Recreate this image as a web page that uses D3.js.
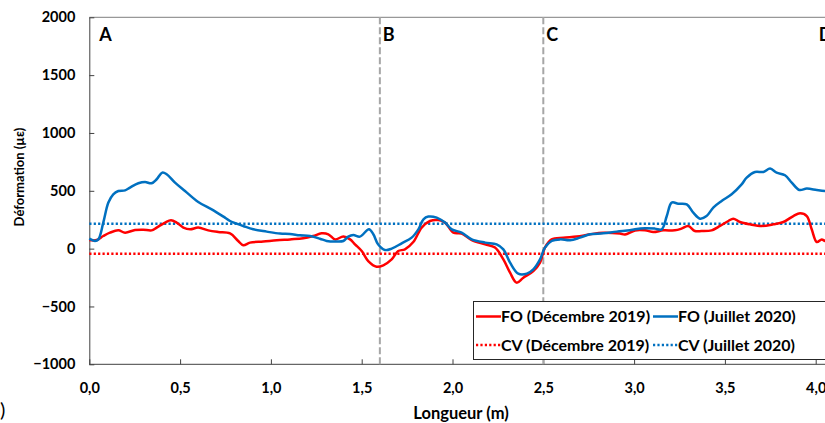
<!DOCTYPE html>
<html><head><meta charset="utf-8">
<script src="https://cdn.jsdelivr.net/npm/d3@7"></script>
<style>
html,body{margin:0;padding:0;background:#fff;overflow:hidden}
svg{display:block;font-family:Lato,"Open Sans",sans-serif}
</style></head>
<body>
<svg id="c" width="825" height="423"></svg>
<script>
// ---- data ----
const xTicks = [0, 0.5, 1.0, 1.5, 2.0, 2.5, 3.0, 3.5, 4.0];
const yTicks = [-1000, -500, 0, 500, 1000, 1500, 2000];
const sectionPos = [1.6, 2.5];
const labels = ["A", "B", "C", "D"];
const labelPos = [0.0, 1.6, 2.5, 4.0];
const cvDec2019 = -45;
const cvJul2020 = 215;

const xFOjul = [0,0.031,0.05,0.077,0.105,0.132,0.16,0.197,0.224,0.27,0.307,0.343,0.371,0.402,0.426,0.472,0.527,0.6,0.674,0.747,0.775,0.848,0.903,0.977,1.05,1.105,1.16,1.215,1.27,1.307,1.362,1.399,1.426,1.454,1.49,1.54,1.564,1.59,1.628,1.665,1.72,1.775,1.812,1.84,1.867,1.913,1.959,1.996,2.05,2.106,2.18,2.243,2.28,2.317,2.362,2.409,2.445,2.482,2.509,2.546,2.592,2.647,2.702,2.757,2.83,2.904,2.977,3.005,3.06,3.115,3.152,3.18,3.207,3.243,3.29,3.326,3.363,3.399,3.436,3.482,3.537,3.592,3.62,3.666,3.712,3.749,3.785,3.831,3.868,3.91,3.951,4.006,4.052,4.1];
const yFOjul = [86,66,80,225,398,470,498,504,528,565,576,565,600,657,643,571,498,403,340,268,239,196,167,147,130,126,115,109,86,66,61,66,104,118,104,167,124,37,-12,0,46,95,167,253,277,268,225,167,138,80,52,37,-6,-121,-216,-216,-179,-93,9,66,80,72,95,124,132,147,158,167,176,173,167,282,398,389,383,311,259,282,355,412,470,556,614,663,663,692,657,634,571,507,519,507,498,490];

const xFOdec = [0,0.04,0.077,0.114,0.16,0.197,0.252,0.297,0.343,0.371,0.417,0.45,0.481,0.518,0.555,0.6,0.655,0.71,0.775,0.82,0.848,0.885,0.958,1.032,1.105,1.178,1.233,1.279,1.316,1.353,1.399,1.436,1.463,1.5,1.536,1.582,1.619,1.665,1.701,1.738,1.784,1.83,1.876,1.922,1.959,2.005,2.05,2.106,2.18,2.234,2.28,2.317,2.353,2.39,2.445,2.482,2.509,2.546,2.61,2.684,2.757,2.83,2.922,2.95,3.005,3.06,3.106,3.161,3.224,3.261,3.298,3.335,3.371,3.427,3.473,3.519,3.546,3.583,3.638,3.703,3.767,3.822,3.877,3.914,3.951,3.978,4.006,4.033,4.052,4.1];
const yFOdec = [74,74,109,138,158,138,161,164,158,182,225,245,225,182,167,182,158,144,132,66,29,52,61,72,80,89,109,132,124,80,104,80,37,-21,-107,-156,-144,-93,-21,-6,57,182,239,247,225,138,130,74,37,9,-93,-208,-294,-251,-194,-121,9,80,95,104,124,138,130,122,157,158,144,158,158,173,196,152,152,158,196,239,259,230,210,196,210,230,282,305,282,167,57,80,66,60];

const legendNames = ["FO (Décembre 2019)", "FO (Juillet 2020)", "CV (Décembre 2019)", "CV (Juillet 2020)"];
const RED = "#ff0000", BLUE = "#0070c0";

// ---- scales ----
const x0 = 89.3, pxPerM = 181.6;
const x = d3.scaleLinear().domain([0, 4.5]).range([x0, x0 + 4.5 * pxPerM]);
const y = d3.scaleLinear().domain([-1000, 2000]).range([364.3, 17.3]);

const svg = d3.select("#c");
const W = 825;

// top border
svg.append("line").attr("x1", x(0)).attr("x2", W).attr("y1", y(2000)).attr("y2", y(2000))
  .attr("stroke", "#7f7f7f").attr("stroke-width", 1);

// axes
const xAxis = d3.axisBottom(x).tickValues(xTicks).tickSizeInner(-5).tickSizeOuter(0)
  .tickFormat(d => d3.format(".1f")(d).replace(".", ","));
const gx = svg.append("g").attr("transform", `translate(0,${y(-1000)})`).call(xAxis);
gx.select(".domain").attr("stroke", "#404040").attr("d", `M${x(0)},0H${W}`);
gx.selectAll(".tick line").attr("stroke", "#404040");
gx.selectAll("text").attr("dy", null).attr("y", 29).attr("fill", "#000")
  .style("font-size", "14.5px").style("font-weight", "700").style("font-family", "Lato");

const yAxis = d3.axisLeft(y).tickValues(yTicks).tickSizeInner(-5).tickSizeOuter(0).tickFormat(d3.format("d"));
const gy = svg.append("g").attr("transform", `translate(${x(0)},0)`).call(yAxis);
gy.select(".domain").attr("stroke", "#404040");
gy.selectAll(".tick line").attr("stroke", "#404040");
gy.selectAll("text").attr("x", -14).attr("fill", "#000")
  .style("font-size", "14.5px").style("font-weight", "700").style("font-family", "Lato");

// section dashed lines
svg.selectAll(".sec").data(sectionPos).join("line")
  .attr("x1", d => x(d)).attr("x2", d => x(d)).attr("y1", y(2000)).attr("y2", y(-1000))
  .attr("stroke", "#a6a6a6").attr("stroke-width", 2).attr("stroke-dasharray", "7,3");

// section labels
svg.selectAll(".lab").data(labels).join("text")
  .attr("x", (d, i) => x(labelPos[i]) + (i === 0 ? 10 : 3)).attr("y", 41)
  .style("font-size", "18px").style("font-weight", "700").text(d => d);

// CV dotted lines
svg.append("line").attr("x1", x(0)).attr("x2", W).attr("y1", y(cvDec2019)).attr("y2", y(cvDec2019))
  .attr("stroke", RED).attr("stroke-width", 2.5).attr("stroke-dasharray", "2.2,2.2");
svg.append("line").attr("x1", x(0)).attr("x2", W).attr("y1", y(cvJul2020)).attr("y2", y(cvJul2020))
  .attr("stroke", BLUE).attr("stroke-width", 2.5).attr("stroke-dasharray", "2.2,2.2");

// FO curves
const line = d3.line().x(d => x(d[0])).y(d => y(d[1])).curve(d3.curveCatmullRom.alpha(0.5));
svg.append("path").datum(xFOdec.map((v, i) => [v, yFOdec[i]]))
  .attr("d", line).attr("fill", "none").attr("stroke", RED).attr("stroke-width", 2.5);
svg.append("path").datum(xFOjul.map((v, i) => [v, yFOjul[i]]))
  .attr("d", line).attr("fill", "none").attr("stroke", BLUE).attr("stroke-width", 2.5);

// legend
const lg = svg.append("g");
lg.append("rect").attr("x", 473.5).attr("y", 301.5).attr("width", 400).attr("height", 58)
  .attr("fill", "#fff").attr("stroke", "#262626").attr("stroke-width", 1);
const legItems = [
  {n: legendNames[0], c: RED, dash: null, lx: 476, ty: 316.5},
  {n: legendNames[1], c: BLUE, dash: null, lx: 653, ty: 316.5},
  {n: legendNames[2], c: RED, dash: "2.2,2.2", lx: 476, ty: 345},
  {n: legendNames[3], c: BLUE, dash: "2.2,2.2", lx: 653, ty: 345}
];
legItems.forEach(it => {
  lg.append("line").attr("x1", it.lx).attr("x2", it.lx + 25).attr("y1", it.ty).attr("y2", it.ty)
    .attr("stroke", it.c).attr("stroke-width", 2.5).attr("stroke-dasharray", it.dash);
  lg.append("text").attr("x", it.lx + 25).attr("y", it.ty + 5.5)
    .style("font-size", "16px").style("font-weight", "700").text(it.n);
});

// axis titles
svg.append("text").attr("x", 461).attr("y", 419).attr("text-anchor", "middle")
  .style("font-size", "16.5px").style("font-weight", "700").text("Longueur (m)");
svg.append("text").attr("transform", "translate(24,177) rotate(-90)").attr("text-anchor", "middle")
  .style("font-size", "13px").style("font-weight", "700").text("Déformation (µε)");
svg.append("text").attr("x", 0).attr("y", 417).style("font-size", "20px").text(")");
</script>
</body></html>
